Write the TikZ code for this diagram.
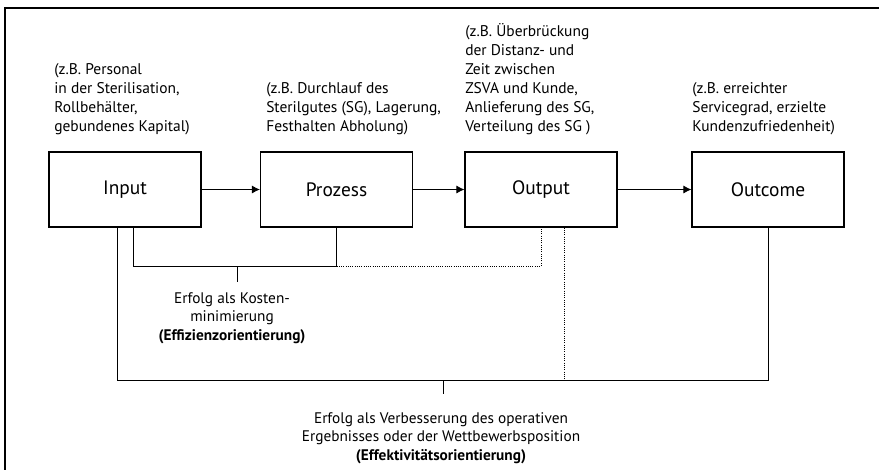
\documentclass[tikz,border=0pt]{standalone}
\usepackage{fontspec}
\setmainfont{PT Sans}
\usetikzlibrary{arrows.meta,positioning}

\tikzset{
  stage/.style={draw, line width=0.8pt, minimum width=3.8cm, minimum height=1.875cm,
    font=\fontsize{13.8}{16}\selectfont},
  note/.style={anchor=south west, inner sep=0pt, align=left,
    font=\fontsize{11}{13.5}\selectfont},
  result/.style={anchor=north, inner sep=0pt, align=center,
    font=\fontsize{10.9}{13.2}\selectfont},
  flow/.style={line width=0.6pt, -{Latex[length=2mm,width=2mm]}},
  link/.style={line width=0.6pt},
}

\begin{document}
\begin{tikzpicture}[x=0.025cm, y=-0.025cm]
        \useasboundingbox (0,0) rectangle (879,470);

        % Frame
        \draw[line width=0.8pt] (879,8) -- (5,8) -- (5,470);

        % Stages
        \node[stage] (input)   at (125,189.5) {Input};
        \node[stage] (prozess) at (336.5,189.5) {Prozess};
        \node[stage] (output)  at (541,189.5) {Output};
        \node[stage] (outcome) at (768,189.5) {Outcome};

        \draw[flow] (input) -- (prozess);
        \draw[flow] (prozess) -- (output);
        \draw[flow] (output) -- (outcome);

        % Examples above the stages
        \node[note] at (54,135) {(z.B. Personal\\in der Sterilisation,\\Rollbehälter,\\gebundenes Kapital)};
        \node[note] at (266,135) {(z.B. Durchlauf des\\Sterilgutes (SG), Lagerung,\\Festhalten Abholung)};
        \node[note] at (465,135) {(z.B. Überbrückung\\der Distanz- und\\Zeit zwischen\\ZSVA und Kunde,\\Anlieferung des SG,\\Verteilung des SG )};
        \node[note] at (692,135) {(z.B. erreichter\\Servicegrad, erzielte\\Kundenzufriedenheit)};

        % Efficiency bracket
        \coordinate (kmid) at (237,266);
        \draw[link] ([xshift=0.2cm]input.south) |- (kmid) -| (prozess.south);
        \draw[link, densely dotted] (prozess.south |- kmid) -| (output.south);
        \draw[link] (kmid) -- ++(0,16);
        \node[result] (kosten) at (232,292)
            {Erfolg als Kosten-\\minimierung\\\textbf{(Effizienzorientierung)}};

        % Effectiveness bracket
        \coordinate (emid) at (443,380);
        \coordinate (outtap) at ([xshift=0.575cm]output.south);
        \draw[link] ([xshift=-0.2cm]input.south) |- (emid) -| (outcome.south);
        \draw[link, densely dotted] (outtap) -- (outtap |- emid);
        \draw[link] (emid) -- ++(0,14);
        \node[result] (wettbewerb) at (441,412)
            {Erfolg als Verbesserung des operativen\\Ergebnisses oder der Wettbewerbsposition\\\textbf{(Effektivitätsorientierung)}};
    \end{tikzpicture}
\end{document}
